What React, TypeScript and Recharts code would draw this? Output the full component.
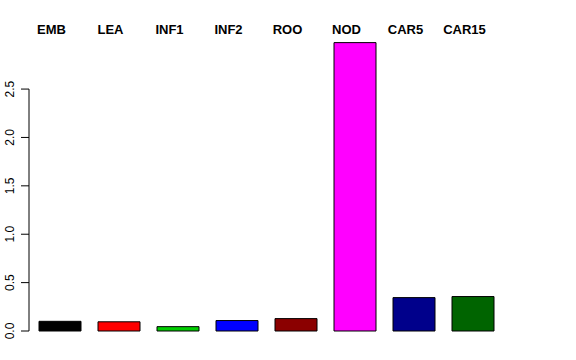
import React from "react";
import { Bar, BarChart, Cell, ReferenceLine, XAxis, YAxis } from "recharts";

const tissues = ["EMB", "LEA", "INF1", "INF2", "ROO", "NOD", "CAR5", "CAR15"];
const levels = [0.1, 0.095, 0.045, 0.108, 0.128, 2.98, 0.345, 0.356];
const fills = [
  "#000000",
  "#FF0000",
  "#00CD00",
  "#0000FF",
  "#8B0000",
  "#FF00FF",
  "#00008B",
  "#006400"
];
const yTicks = [0, 0.5, 1, 1.5, 2, 2.5];

const data = tissues.map((tissue, i) => ({ tissue, level: levels[i] }));

// rotated labels like R's default las=0
const YTick = (props: any) => {
  const { x, y, payload } = props;
  return (
    <text
      x={x}
      y={y}
      transform={`rotate(-90, ${x}, ${y})`}
      textAnchor="middle"
      fontSize={12}
      fill="#000"
    >
      {Number(payload.value).toFixed(1)}
    </text>
  );
};

const TopTick = (props: any) => {
  const { x, y, payload } = props;
  return (
    <text
      x={x - 8}
      y={y + 3}
      textAnchor="middle"
      fontSize={13}
      fontWeight="bold"
      fill="#000"
    >
      {payload.value}
    </text>
  );
};

const App: React.FC = () => {
  return (
    <div style={{ position: "absolute", left: 0, top: 0 }}>
      <BarChart
        width={576}
        height={360}
        data={data}
        margin={{ top: 0, right: 74, bottom: 29, left: 0 }}
        style={{ fontFamily: "'Liberation Sans', Arial, sans-serif" }}
      >
        <XAxis
          xAxisId="cat"
          dataKey="tissue"
          orientation="top"
          height={31}
          axisLine={false}
          tickLine={false}
          tickSize={0}
          tickMargin={0}
          interval={0}
          padding={{ left: 1, right: 0 }}
          tick={<TopTick />}
        />
        <XAxis xAxisId="edge" type="number" domain={[0, 1]} hide />
        <YAxis
          width={29}
          domain={[0, 3.1]}
          ticks={yTicks}
          axisLine={false}
          tickSize={8}
          tickMargin={7}
          tickLine={{ stroke: "#000" }}
          tick={<YTick />}
        />
        <ReferenceLine
          xAxisId="edge"
          segment={[
            { x: 0, y: 0 },
            { x: 0, y: 2.5 }
          ]}
          stroke="#000"
          ifOverflow="visible"
        />
        <Bar
          xAxisId="cat"
          dataKey="level"
          barSize={42}
          stroke="#000"
          strokeWidth={1}
          isAnimationActive={false}
        >
          {data.map((d, i) => (
            <Cell key={d.tissue} fill={fills[i]} />
          ))}
        </Bar>
      </BarChart>
    </div>
  );
};

export default App;
